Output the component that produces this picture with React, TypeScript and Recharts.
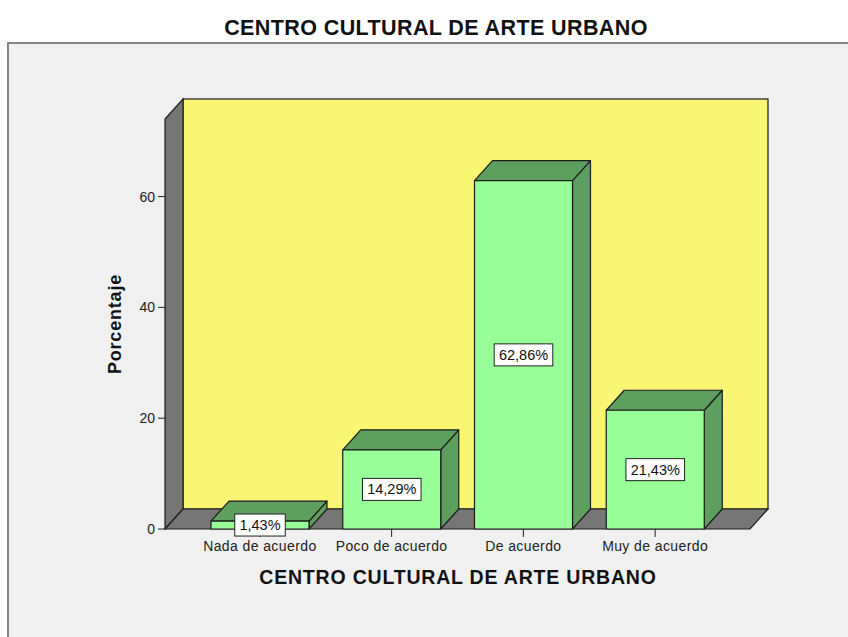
import { BarChart, Bar, XAxis, YAxis, LabelList, usePlotArea } from 'recharts'

const categories = ['Nada de acuerdo', 'Poco de acuerdo', 'De acuerdo', 'Muy de acuerdo']
const percentages = [1.43, 14.29, 62.86, 21.43]
const yTicks = [0, 20, 40, 60]

const data = categories.map((name, i) => ({ name, value: percentages[i] }))

const FONT = 'Arial, "Liberation Sans", sans-serif'
const DX = 18
const DY = 20
const EDGE = '#1c1c1c'

function fmt(v: number) {
  return v.toFixed(2).replace('.', ',') + '%'
}

function Backdrop() {
  const area = usePlotArea()
  if (!area) return null
  const { x, y, width, height } = area
  const b = y + height
  return (
    <g>
      <rect x={8} y={43} width={900} height={700} fill="#f0f0f0" stroke="#858585" strokeWidth={2} />
      <rect x={x + DX} y={y - DY} width={width} height={height} fill="#faf674" stroke={EDGE} strokeWidth={1.2} />
      <polygon
        points={`${x},${y} ${x + DX},${y - DY} ${x + DX},${b - DY} ${x},${b}`}
        fill="#767676" stroke={EDGE} strokeWidth={1.2}
      />
      <polygon
        points={`${x},${b} ${x + width},${b} ${x + width + DX},${b - DY} ${x + DX},${b - DY}`}
        fill="#767676" stroke={EDGE} strokeWidth={1.2}
      />
    </g>
  )
}

function Titles() {
  return (
    <g fontFamily={FONT} fontWeight="bold" fill="#111">
      <text x={436} y={35} textAnchor="middle" fontSize={21.5} letterSpacing={0.4}>
        CENTRO CULTURAL DE ARTE URBANO
      </text>
      <text x={458} y={584} textAnchor="middle" fontSize={19.5} letterSpacing={0.8}>
        CENTRO CULTURAL DE ARTE URBANO
      </text>
      <text x={121} y={324} textAnchor="middle" fontSize={18} letterSpacing={0.8} transform="rotate(-90, 121, 324)">
        Porcentaje
      </text>
    </g>
  )
}

function Bar3D(props: any) {
  const { x, y, width: w, height: h } = props
  return (
    <g stroke={EDGE} strokeWidth={1.2} strokeLinejoin="round">
      <polygon
        points={`${x + w},${y} ${x + w + DX},${y - DY} ${x + w + DX},${y + h - DY} ${x + w},${y + h}`}
        fill="#5e9e5e"
      />
      <polygon
        points={`${x},${y} ${x + DX},${y - DY} ${x + w + DX},${y - DY} ${x + w},${y}`}
        fill="#5e9e5e"
      />
      <rect x={x} y={y} width={w} height={h} fill="#98fe98" />
    </g>
  )
}

function ValueLabel(props: any) {
  const { x, y, width, height, value } = props
  const txt = fmt(Number(value))
  const boxW = txt.length * 8.1 + 10
  const cx = x + width / 2
  const cy = y + height / 2
  return (
    <g>
      <rect x={cx - boxW / 2} y={cy - 11} width={boxW} height={22} fill="#fff" stroke="#222" strokeWidth={1} />
      <text x={cx} y={cy + 5} textAnchor="middle" fontFamily={FONT} fontSize={14.5} fill="#111">
        {txt}
      </text>
    </g>
  )
}

export default function App() {
  return (
    <div style={{ position: 'absolute', left: 0, top: 0, width: 848, height: 637, background: '#fff' }}>
      <BarChart
        width={848}
        height={637}
        data={data}
        margin={{ top: 119, left: 125, right: 98, bottom: 78 }}
        barSize={98}
      >
        <Backdrop />
        <Titles />
        <XAxis
          dataKey="name"
          axisLine={false}
          tickSize={8}
          tickMargin={4}
          height={30}
          padding={{ left: 29, right: 29 }}
          tickLine={{ stroke: '#222' }}
          tick={{ fill: '#222', fontSize: 14, fontFamily: FONT, letterSpacing: 0.4 }}
        />
        <YAxis
          width={40}
          domain={[0, 74]}
          ticks={yTicks}
          axisLine={false}
          tickSize={7}
          tickMargin={3}
          tickLine={{ stroke: '#222' }}
          tick={{ fill: '#222', fontSize: 14, fontFamily: FONT }}
        />
        <Bar dataKey="value" shape={Bar3D} isAnimationActive={false}>
          <LabelList dataKey="value" content={ValueLabel} />
        </Bar>
      </BarChart>
    </div>
  )
}
